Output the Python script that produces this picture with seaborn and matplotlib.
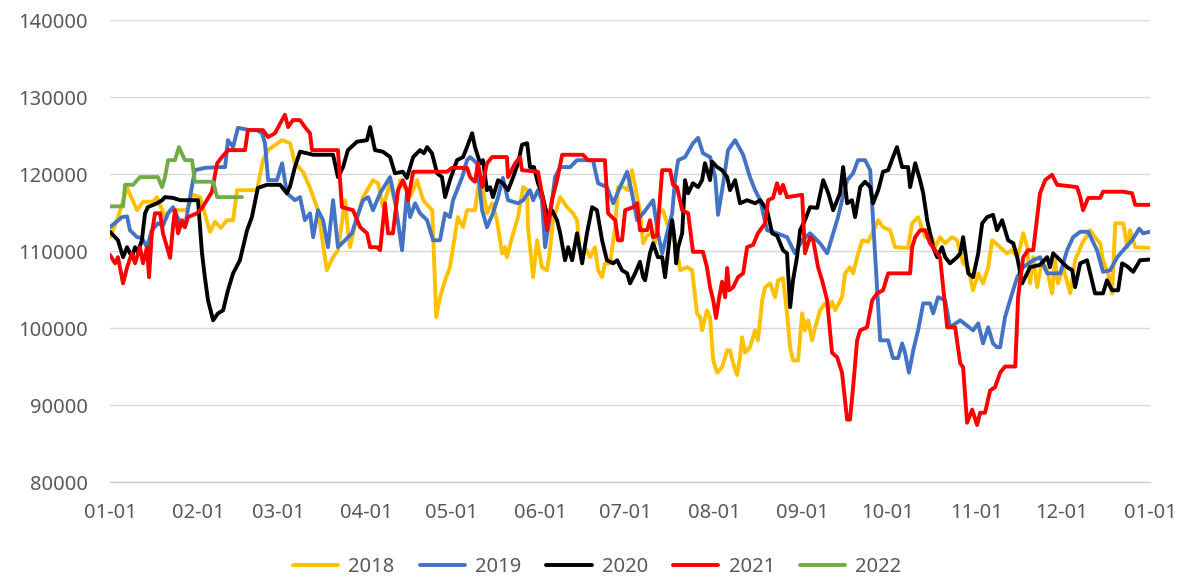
import pandas as pd
import seaborn as sns
import matplotlib.pyplot as plt

# day of year -> value
days_2018 = [0, 2.5, 6.0, 9.5, 11.6, 15.1, 16.5, 19.3, 21.1, 27.0, 29.1, 31.6, 35.1, 36.9, 38.9, 41.0, 43.2, 44.6,
             51.6, 53.7, 55.4, 60.4, 63.2, 64.9, 67.7, 70.2, 73.0, 76.1, 78.3, 80.0, 82.5, 83.5, 84.2, 86.7, 88.8,
             92.3, 94.1, 95.8, 98.3, 100.1, 101.8, 105.3, 107.8, 109.9, 113.1, 114.5, 115.8, 117.6, 119.3, 120.4,
             122.1, 123.9, 125.3, 128.1, 129.2, 130.6, 132.3, 134.1, 135.8, 137.6, 138.6, 139.3, 141.1, 143.2,
             145.0, 146.4, 146.7, 148.5, 149.9, 151.6, 153.4, 154.4, 155.5, 158.0, 160.4, 162.5, 163.9, 165.0,
             167.4, 168.5, 170.2, 171.3, 172.7, 173.7, 175.5, 177.3, 178.3, 180.1, 181.8, 183.2, 185.0, 186.0,
             187.1, 188.5, 190.2, 191.3, 192.3, 194.1, 195.5, 197.3, 199.0, 200.1, 202.5, 204.3, 206.0, 207.1,
             207.8, 209.5, 210.6, 211.7, 213.1, 214.8, 216.6, 217.6, 218.7, 220.1, 221.1, 221.8, 222.9, 224.6,
             226.4, 227.4, 228.9, 229.9, 231.7, 233.4, 234.5, 236.2, 237.6, 238.7, 239.7, 241.5, 242.9, 243.9,
             245.0, 246.4, 247.5, 249.2, 251.0, 252.7, 253.4, 254.5, 256.9, 258.0, 259.7, 260.8, 262.2, 264.0,
             266.1, 269.6, 271.3, 273.8, 275.5, 280.1, 281.5, 283.6, 286.1, 288.5, 289.6, 291.3, 293.1, 295.5,
             297.3, 299.4, 301.2, 302.9, 304.7, 306.4, 308.2, 309.6, 312.4, 314.8, 316.6, 318.4, 319.4, 320.5,
             321.9, 322.9, 324.0, 325.4, 327.1, 328.9, 330.6, 331.7, 332.7, 334.5, 337.0, 338.7, 341.2, 344.0,
             345.7, 347.5, 348.5, 350.3, 351.7, 352.8, 355.6, 357.0, 358.0, 359.8, 365]
vals_2018 = [111800, 114000, 118200, 115300, 116400, 116400, 117000, 114400, 115300, 115300, 117300, 117000, 112500,
             113800, 113000, 114000, 114000, 117900, 117900, 121800, 123100, 124400, 124000, 121400, 120300, 118200,
             115300, 107500, 109200, 110100, 116600, 112700, 110500, 114400, 117000, 119200, 118800, 115700, 118800,
             116200, 119200, 117000, 119200, 116600, 115300, 101400, 104000, 106200, 107900, 110500, 114400, 113100,
             115300, 115300, 118300, 118800, 114900, 116200, 114000, 109700, 110500, 109200, 111800, 114400, 118300,
             117900, 113100, 106600, 111400, 107900, 107500, 110100, 114000, 117000, 115700, 114900, 114000, 109700,
             110100, 109200, 110500, 107500, 106600, 108400, 108400, 113100, 118300, 118300, 117900, 120500, 117000,
             115300, 111000, 112000, 112300, 111000, 114900, 115300, 113600, 112300, 110100, 107500, 107900, 107500,
             101900, 101400, 99700, 102300, 101400, 95800, 94200, 94900, 97100, 97100, 95400, 93900, 96200, 98800,
             96800, 97500, 99700, 98400, 103600, 105300, 105800, 104000, 106200, 106500, 101900, 97500, 95800, 95800,
             101900, 99700, 101000, 98400, 100100, 102300, 103200, 102700, 103400, 102300, 104000, 107100, 107900,
             107100, 109200, 111400, 111200, 114000, 113100, 112700, 110500, 110400, 113600, 114400, 111800, 111800,
             110500, 111800, 111000, 111800, 111400, 108400, 107900, 104900, 107100, 105800, 107900, 111400, 110500,
             109700, 110100, 109200, 110500, 112300, 110500, 105800, 109200, 105300, 108800, 107500, 104500, 108800,
             105800, 107900, 104500, 108800, 111000, 112700, 111800, 111000, 108800, 107100, 104500, 113600, 113600,
             110500, 112700, 110500, 110400]

days_2019 = [0, 4.2, 6.0, 7.0, 9.5, 11.2, 13.0, 14.7, 16.8, 18.6, 20.4, 22.1, 24.6, 26.3, 28.1, 29.8, 33.3, 38.6,
             40.4, 41.4, 43.2, 44.9, 49.1, 51.6, 53.4, 54.4, 55.5, 58.6, 60.4, 62.1, 64.9, 66.7, 68.4, 70.2, 71.3,
             73.0, 74.8, 76.5, 78.3, 80.0, 82.5, 84.9, 86.0, 88.8, 90.6, 92.3, 94.8, 98.3, 100.0, 102.5, 104.2,
             105.3, 107.1, 108.8, 111.3, 113.4, 115.8, 117.6, 119.3, 120.4, 123.6, 125.3, 126.4, 128.8, 130.6,
             132.3, 134.4, 136.2, 137.9, 139.7, 143.2, 145.0, 147.4, 148.5, 150.2, 151.6, 152.7, 154.4, 156.2,
             158.0, 161.5, 163.9, 169.5, 171.3, 174.4, 176.6, 179.0, 181.5, 183.2, 185.0, 187.1, 190.6, 192.3,
             193.8, 195.5, 197.3, 198.3, 199.4, 201.8, 204.6, 206.4, 208.1, 210.6, 212.4, 213.4, 215.2, 216.9,
             219.4, 222.2, 224.6, 226.4, 228.2, 230.6, 234.1, 237.6, 240.4, 242.9, 245.7, 249.2, 251.7, 253.8,
             255.5, 256.9, 258.7, 260.8, 262.5, 265.0, 266.8, 267.8, 269.2, 270.3, 273.1, 274.8, 276.6, 278.0,
             279.0, 280.4, 281.9, 283.6, 285.4, 287.8, 288.9, 290.6, 293.1, 294.8, 298.4, 302.9, 304.7, 306.4,
             308.2, 309.9, 311.3, 312.4, 314.1, 316.6, 318.4, 320.5, 324.0, 326.4, 328.9, 333.5, 335.9, 338.0,
             340.5, 343.3, 346.4, 348.5, 351.0, 353.5, 355.6, 358.7, 361.2, 362.6, 365]
vals_2019 = [113100, 114400, 114500, 112700, 111800, 111700, 110500, 112700, 113600, 113300, 114900, 115700, 113600,
             113100, 117000, 120500, 120800, 120900, 120900, 124400, 123500, 126000, 125700, 125700, 125300, 124000,
             119200, 119200, 121400, 117500, 116600, 117000, 114000, 114900, 111800, 115300, 114000, 110500, 116600,
             110500, 111400, 112300, 113600, 116600, 117000, 115300, 117500, 119600, 116600, 110100, 117500, 114400,
             116200, 114900, 114000, 111400, 111400, 114900, 114400, 116600, 119600, 121800, 122200, 121400, 115300,
             113100, 114900, 117000, 119500, 116600, 116200, 116600, 117900, 116600, 117900, 116600, 110500, 114400,
             119600, 120900, 120900, 121800, 121800, 118800, 118300, 116200, 118300, 120300, 117500, 114000, 114900,
             116600, 112300, 109700, 112300, 114900, 119200, 121800, 122200, 124000, 124700, 122700, 122200, 119600,
             114700, 118800, 123100, 124400, 122500, 119600, 117900, 116600, 112700, 112300, 111800, 109700, 111400,
             112300, 111000, 109700, 112300, 114400, 116600, 119200, 120100, 121800, 121800, 120500, 114000, 105300,
             98400, 98400, 96100, 96100, 98000, 96800, 94200, 97100, 99700, 103200, 103200, 101900, 104000, 103600,
             100100, 101000, 99700, 100600, 98000, 100100, 98000, 97500, 97500, 101400, 104500, 106600, 107900,
             108800, 109200, 107100, 107100, 110100, 111800, 112500, 112500, 110100, 107300, 107500, 109200, 110100,
             111400, 112900, 112300, 112500]

days_2020 = [0, 2.8, 4.6, 6.0, 7.7, 8.8, 9.8, 11.2, 12.3, 13.3, 16.5, 18.3, 19.3, 22.1, 24.6, 30.9, 32.3, 33.3,
             34.4, 36.2, 37.9, 39.7, 41.4, 43.2, 45.6, 48.1, 49.8, 51.9, 55.1, 59.7, 62.1, 63.2, 64.9, 66.7, 69.1,
             71.3, 78.3, 80.0, 81.8, 83.5, 86.7, 90.2, 91.3, 93.0, 95.8, 98.3, 100.0, 102.8, 104.2, 106.4, 108.8,
             110.2, 111.3, 113.0, 114.8, 116.5, 117.6, 119.3, 121.8, 123.9, 125.3, 127.1, 128.1, 129.9, 130.9,
             132.3, 133.4, 134.4, 136.2, 137.9, 139.7, 141.5, 143.2, 144.6, 146.4, 147.4, 148.8, 150.2, 151.6,
             152.7, 153.7, 155.1, 156.9, 158.0, 159.7, 160.8, 162.2, 163.9, 165.7, 167.4, 169.2, 170.9, 172.7,
             174.4, 176.6, 178.0, 179.7, 181.5, 182.5, 184.3, 186.0, 187.1, 187.8, 189.5, 190.6, 192.3, 193.8,
             194.8, 196.6, 197.3, 198.0, 198.7, 199.4, 200.8, 201.8, 202.9, 204.6, 206.4, 207.8, 208.8, 210.6,
             211.3, 213.1, 214.8, 216.6, 217.6, 219.4, 221.1, 223.6, 226.4, 228.2, 230.6, 232.4, 234.1, 236.2,
             237.6, 238.7, 239.7, 241.1, 242.2, 243.9, 245.7, 248.2, 250.3, 252.1, 253.8, 256.2, 257.3, 258.7,
             260.4, 261.5, 263.3, 265.0, 266.8, 267.8, 269.6, 271.3, 273.1, 274.8, 276.2, 278.0, 280.1, 280.8,
             282.6, 284.3, 285.4, 286.8, 287.8, 288.9, 290.3, 292.0, 293.1, 294.8, 297.3, 298.4, 299.4, 301.2,
             302.9, 304.7, 306.1, 307.8, 309.9, 311.3, 313.1, 315.2, 317.0, 318.4, 320.1, 321.2, 322.9, 326.4,
             328.9, 329.9, 331.0, 333.5, 335.9, 337.7, 338.7, 340.5, 342.9, 344.0, 345.7, 348.5, 349.9, 351.7,
             353.8, 355.2, 357.0, 359.1, 361.5, 365]
vals_2020 = [112500, 111400, 109200, 110500, 109200, 110500, 109900, 111400, 114900, 115700, 116200, 116600, 117000,
             116900, 116600, 116600, 109700, 106600, 103600, 101000, 101900, 102300, 104900, 107100, 108800, 112700,
             114400, 118200, 118600, 118600, 117500, 118400, 120900, 122900, 122700, 122500, 122500, 119600, 120900,
             123100, 124200, 124400, 126100, 123100, 122900, 122200, 120100, 120300, 119500, 122200, 123100, 122700,
             123500, 122700, 120100, 119600, 117000, 119200, 121800, 122200, 123500, 125300, 123500, 121400, 121800,
             117900, 118300, 117000, 119200, 118800, 117900, 119600, 121400, 123800, 124000, 120900, 120900, 118800,
             117500, 115700, 114400, 115300, 114000, 112300, 108800, 110500, 108800, 112300, 108400, 112300, 115700,
             115300, 111400, 108800, 108400, 108800, 107500, 107100, 105800, 107100, 108600, 106600, 106200, 109700,
             111000, 109200, 109200, 106600, 112300, 114000, 112000, 108400, 110500, 112300, 119200, 117500, 118800,
             118300, 119200, 121400, 119200, 121600, 120900, 120500, 119600, 117900, 119200, 116200, 116600, 116200,
             116600, 115300, 112300, 112000, 110100, 109700, 102700, 106200, 109200, 112700, 114000, 115700, 115600,
             119200, 117500, 115300, 117500, 120900, 116200, 116600, 114400, 118300, 119000, 118300, 116200, 117900,
             120300, 120500, 122200, 123500, 120900, 120900, 118300, 121400, 119200, 117500, 114000, 112300, 110500,
             109200, 110500, 109200, 108400, 109200, 109700, 111800, 107100, 106600, 109700, 113600, 114400, 114700,
             112700, 114000, 111400, 111000, 109200, 105800, 106600, 107900, 108200, 109200, 107900, 109700, 108800,
             107900, 107500, 105300, 108400, 108800, 107100, 104500, 104500, 106200, 104900, 104900, 108400, 108000,
             107300, 108800, 108900]

days_2021 = [0, 1.8, 2.8, 3.5, 4.6, 6.0, 7.7, 8.8, 10.5, 11.6, 13.0, 13.7, 14.7, 15.8, 17.6, 18.6, 20.0, 21.1,
             22.1, 22.8, 23.9, 25.3, 26.3, 27.4, 30.5, 32.3, 34.0, 35.8, 37.6, 39.3, 41.4, 47.4, 48.4, 53.7, 55.5,
             57.9, 61.4, 62.5, 64.2, 66.7, 68.4, 70.2, 70.9, 80.0, 81.4, 85.3, 87.8, 90.2, 91.3, 93.7, 94.8, 96.5,
             97.6, 99.3, 101.1, 102.8, 104.2, 104.6, 106.4, 118.3, 120.0, 125.3, 126.4, 127.4, 128.1, 129.2, 130.6,
             132.3, 134.1, 139.3, 139.7, 142.2, 143.9, 144.6, 150.2, 152.0, 153.4, 155.1, 156.9, 158.7, 166.0,
             167.8, 173.7, 174.8, 177.3, 178.3, 179.7, 180.8, 183.6, 185.0, 186.0, 188.5, 189.5, 190.6, 192.0,
             193.8, 196.6, 197.6, 199.0, 200.8, 202.9, 204.6, 208.1, 209.5, 210.6, 211.7, 212.7, 213.8, 214.8,
             215.9, 216.6, 217.3, 218.7, 220.4, 222.2, 223.6, 225.7, 227.4, 229.9, 231.0, 232.7, 234.1, 235.2,
             236.2, 237.6, 242.9, 243.9, 245.7, 246.8, 248.5, 249.9, 251.7, 252.1, 253.4, 255.2, 256.9, 258.7,
             259.7, 260.8, 262.2, 263.3, 265.7, 267.5, 269.2, 271.3, 273.1, 280.8, 281.5, 282.6, 284.3, 286.1,
             287.8, 290.3, 291.3, 292.4, 293.8, 296.6, 298.4, 299.4, 300.8, 302.6, 304.3, 305.4, 307.1, 308.9,
             310.6, 312.4, 314.1, 317.7, 318.7, 320.5, 322.2, 324.0, 325.4, 326.4, 328.2, 330.6, 332.4, 339.4,
             340.5, 341.5, 343.3, 347.5, 348.5, 355.6, 358.7, 359.8, 365]
vals_2021 = [109500, 108400, 109200, 107900, 105800, 107900, 109700, 108400, 110500, 108400, 110500, 106600, 112300,
             114900, 114900, 112300, 110500, 109100, 113100, 115300, 112300, 114000, 113100, 114400, 114900, 115600,
             116600, 117700, 121400, 122200, 123100, 123100, 125700, 125700, 124800, 125300, 127700, 126100, 127000,
             127000, 126100, 125300, 123100, 123100, 115700, 115300, 113100, 112300, 110500, 110500, 110100, 116200,
             112300, 112300, 117900, 119200, 117900, 116600, 120300, 120300, 120800, 120800, 119600, 119200, 119000,
             121400, 118300, 121400, 122200, 122200, 119600, 121400, 122200, 120500, 120300, 116600, 112700, 116600,
             119200, 122500, 122500, 121800, 121800, 114900, 114000, 111400, 111400, 115300, 115700, 116200, 112700,
             112700, 114000, 111800, 112000, 120500, 120500, 118600, 118300, 115300, 114900, 109900, 109900, 107900,
             105300, 103600, 101300, 104000, 106000, 104000, 107800, 104900, 105300, 106600, 107100, 110500, 110800,
             112300, 113600, 116600, 116900, 118800, 117500, 118600, 117000, 117300, 109700, 111800, 111400, 107900,
             106200, 103600, 101900, 96800, 96200, 94200, 88100, 88100, 92300, 98400, 99700, 100100, 103600, 104500,
             104900, 107100, 107100, 110500, 111800, 112700, 112700, 111000, 109700, 109200, 105300, 100100, 100100,
             95400, 94900, 87700, 89400, 87400, 89000, 89000, 91900, 92300, 94200, 95000, 95000, 104000, 109200,
             110100, 110100, 114400, 117500, 119200, 119900, 118600, 118300, 117000, 115300, 116900, 116900, 117700,
             117700, 117500, 116000, 116000]

days_2022 = [0, 4.6, 5.3, 8.1, 10.5, 16.8, 18.3, 19.3, 20.4, 22.8, 24.2, 26.3, 28.8, 29.8, 36.2, 37.6, 46.3]
vals_2022 = [115800, 115800, 118600, 118600, 119600, 119600, 118300, 119600, 121800, 121800, 123500, 121800, 121800,
             119000, 119000, 117000, 117000]

years = ['2018', '2019', '2020', '2021', '2022']
colors = ['#FFC000', '#4472C4', '#000000', '#FF0000', '#70AD47']
month_days = [0, 31, 59, 90, 120, 151, 181, 212, 243, 273, 304, 334, 365]
month_labels = ['01-01', '02-01', '03-01', '04-01', '05-01', '06-01', '07-01',
                '08-01', '09-01', '10-01', '11-01', '12-01', '01-01']

series = [(days_2018, vals_2018), (days_2019, vals_2019), (days_2020, vals_2020),
          (days_2021, vals_2021), (days_2022, vals_2022)]
frames = []
for year, (d, v) in zip(years, series):
    frames.append(pd.DataFrame({'day': d, 'value': v, 'year': year}))
data = pd.concat(frames, ignore_index=True)

sns.set_theme(style='white')
plt.rcParams['font.family'] = ['Noto Sans', 'DejaVu Sans']

fig = plt.figure(figsize=(11.8, 5.77), dpi=100)
ax = fig.add_axes([0.0932, 0.1646, 0.8814, 0.8007])
sns.lineplot(data=data, x='day', y='value', hue='year', hue_order=years,
             palette=dict(zip(years, colors)), estimator=None, sort=False,
             linewidth=2.8, ax=ax)

ax.set_xlim(0, 365)
ax.set_ylim(80000, 140000)
ax.set_yticks(range(80000, 140001, 10000))
ax.set_xticks(month_days)
ax.set_xticklabels(month_labels)
ax.set_xlabel('')
ax.set_ylabel('')
ax.yaxis.grid(True, color='#D9D9D9', linewidth=1)
ax.set_axisbelow(True)
for s in ['top', 'right', 'left']:
    ax.spines[s].set_visible(False)
ax.spines['bottom'].set_color('#D0D0D0')
ax.spines['bottom'].set_linewidth(1)
ax.tick_params(axis='x', direction='out', length=5, color='#D0D0D0', width=1,
               labelsize=14.5, labelcolor='#595959', pad=10)
ax.tick_params(axis='y', length=0, labelsize=14.5, labelcolor='#595959', pad=16)

handles, labels = ax.get_legend_handles_labels()
ax.get_legend().remove()
fig.legend(handles, labels, loc='center', bbox_to_anchor=(0.506, 0.017), ncol=5,
           frameon=False, fontsize=14.5, handlelength=2.25, handletextpad=0.5,
           columnspacing=1.25, labelcolor='#595959')

fig.savefig('out.png', dpi=100)
